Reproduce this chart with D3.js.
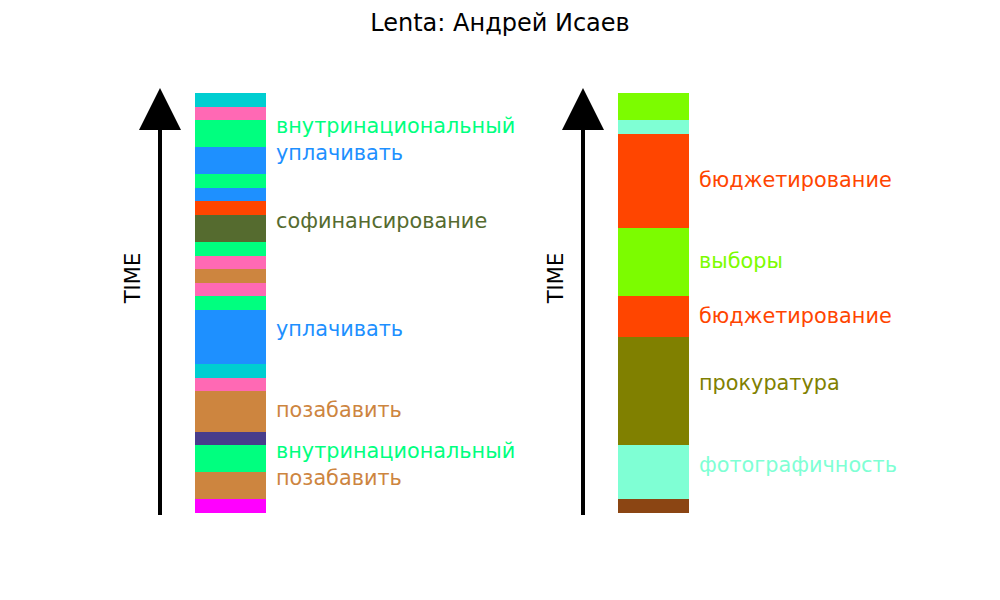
<!DOCTYPE html>
<html>
<head>
<meta charset="utf-8">
<script src="https://cdn.jsdelivr.net/npm/d3@7"></script>
<style>
  html, body { margin: 0; padding: 0; background: #fff; }
  svg { display: block; font-family: "DejaVu Sans", sans-serif; }
</style>
</head>
<body>
<svg id="chart" width="1000" height="600"></svg>
<script>
// ---- Data (segments listed from bottom = earliest to top = latest) ----
const title = "Lenta: Андрей Исаев";
const axisLabel = "TIME";

const leftSizes  = [1, 2, 2, 1, 3, 1, 1, 4, 1, 1, 1, 1, 1, 2, 1, 1, 1, 2, 2, 1, 1];
const leftColors = ["#FF00FF", "#CD853F", "#00FF7F", "#483D8B", "#CD853F", "#FF69B4", "#00CED1",
                    "#1E90FF", "#00FF7F", "#FF69B4", "#CD853F", "#FF69B4", "#00FF7F", "#556B2F",
                    "#FF4500", "#1E90FF", "#00FF7F", "#1E90FF", "#00FF7F", "#FF69B4", "#00CED1"];
const leftLabels = ["", "позабавить", "внутринациональный", "", "позабавить", "", "",
                    "уплачивать", "", "", "", "", "", "софинансирование",
                    "", "", "", "уплачивать", "внутринациональный", "", ""];

const rightSizes  = [1, 4, 8, 3, 5, 7, 1, 2];
const rightColors = ["#8B4513", "#7FFFD4", "#808000", "#FF4500", "#7CFC00", "#FF4500", "#7FFFD4", "#7CFC00"];
const rightLabels = ["", "фотографичность", "прокуратура", "бюджетирование", "выборы", "бюджетирование", "", ""];

// ---- Build ----
const svg = d3.select("#chart");
const totalUnits = d3.sum(leftSizes);
const y = d3.scaleLinear().domain([0, totalUnits]).range([513, 93]);

const columns = [
  { sizes: leftSizes,  colors: leftColors,  labels: leftLabels,  arrowX: 160, barX: 195 },
  { sizes: rightSizes, colors: rightColors, labels: rightLabels, arrowX: 583, barX: 618 }
];
const barW = 71;

svg.append("text")
  .attr("x", 500).attr("y", 23)
  .attr("text-anchor", "middle").attr("dominant-baseline", "central")
  .attr("font-size", 24).attr("fill", "#000")
  .text(title);

columns.forEach(col => {
  let acc = 0;
  const segs = col.sizes.map((s, i) => {
    const seg = { start: acc, size: s, color: col.colors[i], label: col.labels[i] };
    acc += s;
    return seg;
  });
  const g = svg.append("g");
  g.selectAll("rect").data(segs).join("rect")
    .attr("x", col.barX)
    .attr("width", barW)
    .attr("y", d => y(d.start + d.size))
    .attr("height", d => y(d.start) - y(d.start + d.size))
    .attr("fill", d => d.color)
    .attr("shape-rendering", "crispEdges");

  g.selectAll("text.lbl").data(segs.filter(d => d.label)).join("text")
    .attr("class", "lbl")
    .attr("x", col.barX + barW + 10)
    .attr("y", d => y(d.start + Math.floor(d.size / 2) + 0.5) - 1)
    .attr("dominant-baseline", "central")
    .attr("font-size", 20.8)
    .attr("fill", d => d.color)
    .text(d => d.label);

  svg.append("line")
    .attr("x1", col.arrowX).attr("x2", col.arrowX)
    .attr("y1", 515).attr("y2", 125)
    .attr("stroke", "#000").attr("stroke-width", 4);
  svg.append("path")
    .attr("d", `M${col.arrowX - 21},130 L${col.arrowX + 21},130 L${col.arrowX},88 Z`)
    .attr("fill", "#000");

  svg.append("text")
    .attr("transform", `translate(${col.arrowX - 27},278) rotate(-90)`)
    .attr("text-anchor", "middle").attr("dominant-baseline", "central")
    .attr("font-size", 21).attr("fill", "#000")
    .text(axisLabel);
});
</script>
</body>
</html>
